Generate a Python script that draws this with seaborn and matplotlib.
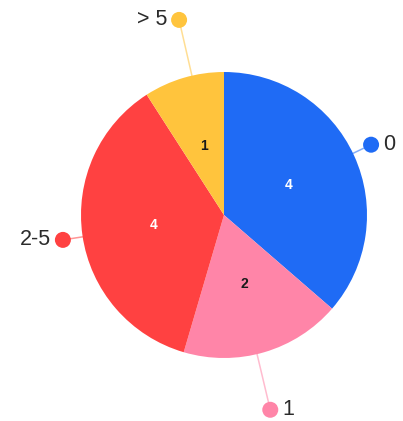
import numpy as np
import matplotlib
matplotlib.use("Agg")
import matplotlib.pyplot as plt
from matplotlib.patches import Circle
import seaborn as sns

categories = ["0", "1", "2-5", "> 5"]
values = [4, 2, 4, 1]
colors = ["#1F6BF5", "#FF85A8", "#FF4141", "#FFC43D"]
inner_text_colors = ["white", "#1a1a1a", "white", "#1a1a1a"]

sns.set_theme(style="white")
plt.rcParams["font.family"] = ["Liberation Sans", "DejaVu Sans"]

W, H = 403, 421
fig = plt.figure(figsize=(W / 100, H / 100), dpi=100)
ax = fig.add_axes([0, 0, 1, 1])

cx, cy, R = 224, H - 215, 143
total = sum(values)

wedges, _, autotexts = ax.pie(
    values, colors=colors, startangle=90, counterclock=False,
    center=(cx, cy), radius=R, frame=True,
    autopct=lambda p: f"{round(p * total / 100)}", pctdistance=0.5,
    wedgeprops=dict(linewidth=0),
    textprops=dict(fontsize=10, fontweight="bold"),
)
ax.set_xlim(0, W)
ax.set_ylim(0, H)
ax.set_aspect("auto")
ax.axis("off")
for t, c in zip(autotexts, inner_text_colors):
    t.set_color(c)

# external labels: dot radius factor and angular tweak (layout only)
rad_f = [1.14, 1.40, 1.14, 1.40]
ang_off = [1.0, -3.0, 0.6, -3.4]
for w, lab, col, rf, ao in zip(wedges, categories, colors, rad_f, ang_off):
    mid = np.deg2rad((w.theta1 + w.theta2) / 2 + ao)
    ex, ey = cx + R * np.cos(mid), cy + R * np.sin(mid)
    dx, dy = cx + R * rf * np.cos(mid), cy + R * rf * np.sin(mid)
    ax.plot([ex, dx], [ey, dy], color=col, alpha=0.55, lw=1.1, zorder=1)
    ax.add_patch(Circle((dx, dy), 8, color=col, zorder=3, lw=0))
    if np.cos(mid) >= 0:
        ax.text(dx + 12, dy, lab, ha="left", va="center", fontsize=15.5, color="#2b2b2b")
    else:
        ax.text(dx - 12, dy, lab, ha="right", va="center", fontsize=15.5, color="#2b2b2b")

fig.savefig("out.png", dpi=100, facecolor="white")
